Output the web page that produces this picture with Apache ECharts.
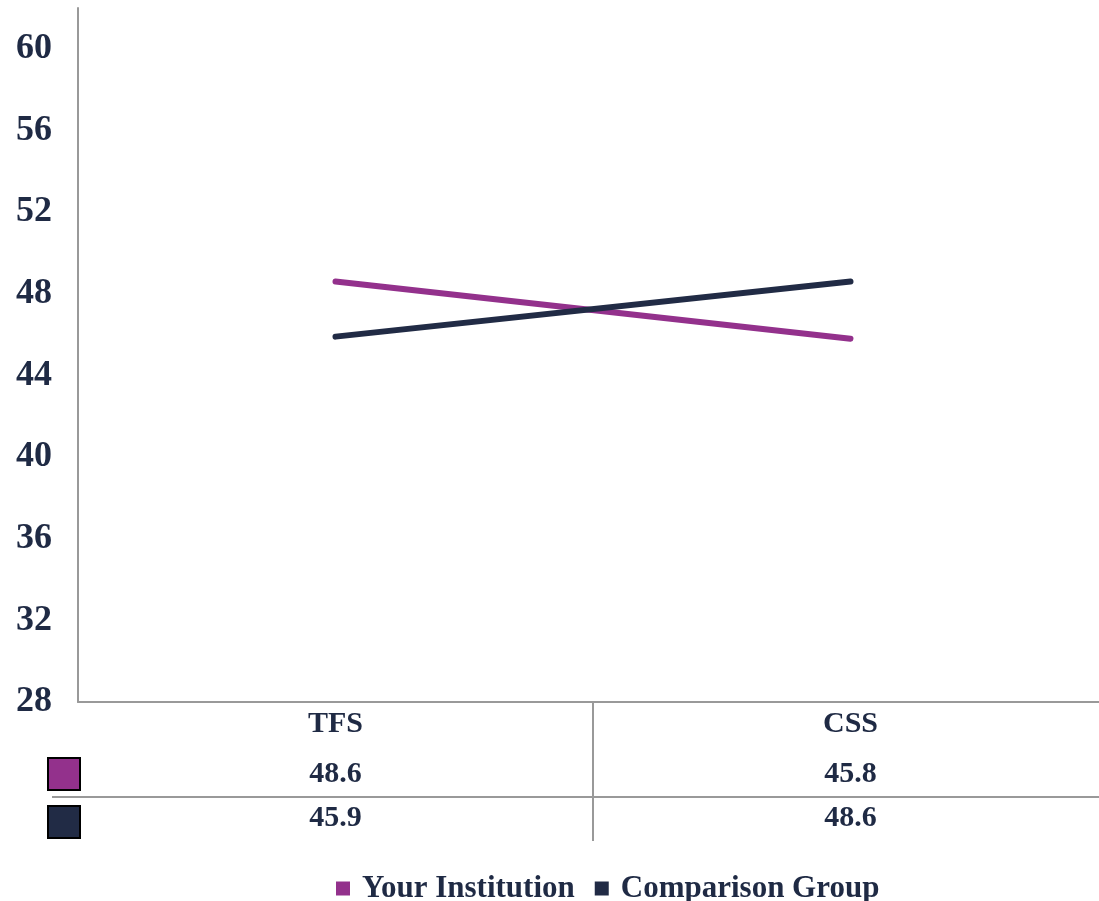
<!DOCTYPE html>
<html>
<head>
<meta charset="utf-8">
<script src="https://cdn.jsdelivr.net/npm/echarts@6/dist/echarts.min.js"></script>
<style>html,body{margin:0;padding:0;background:#fff}#c{width:1099px;height:901px}</style>
</head>
<body>
<div id="c"></div>
<script>
const categories = ['TFS', 'CSS'];
const seriesNames = ['Your Institution', 'Comparison Group'];
const yourInstitution = [48.6, 45.8];
const comparisonGroup = [45.9, 48.6];
const colors = ['#93318C', '#212B45'];
const textColor = '#1F2A44';
const font = '"Liberation Serif", "DejaVu Serif", serif';

const chart = echarts.init(document.getElementById('c'));
chart.setOption({
  animation: false,
  backgroundColor: '#fff',
  grid: { left: 78, top: 8, bottom: 199, width: 1030, outerBoundsMode: 'none', containLabel: false },
  legend: {
    left: 331, top: 868,
    icon: 'rect', itemWidth: 14, itemHeight: 14, itemGap: 20,
    data: seriesNames,
    textStyle: { fontFamily: font, fontWeight: 'bold', fontSize: 31, color: textColor, padding: [0, 0, 0, 7] }
  },
  xAxis: {
    type: 'category',
    data: categories,
    boundaryGap: true,
    axisLine: { lineStyle: { color: '#999', width: 2 } },
    axisTick: { show: false },
    axisLabel: {
      margin: 2,
      interval: 0,
      formatter: function (v, i) {
        return '{c|' + v + '}\n{a|' + yourInstitution[i].toFixed(1) + '}\n{b|' + comparisonGroup[i].toFixed(1) + '}';
      },
      rich: {
        c: { fontFamily: font, fontWeight: 'bold', fontSize: 30, color: textColor, lineHeight: 40 },
        a: { fontFamily: font, fontWeight: 'bold', fontSize: 30, color: textColor, lineHeight: 60 },
        b: { fontFamily: font, fontWeight: 'bold', fontSize: 30, color: textColor, lineHeight: 28 }
      }
    }
  },
  yAxis: {
    type: 'value',
    min: 28, max: 62, interval: 4,
    axisLine: { show: true, lineStyle: { color: '#999', width: 2 } },
    axisTick: { show: false },
    splitLine: { show: false },
    axisLabel: {
      showMaxLabel: false,
      margin: 26,
      fontFamily: font, fontWeight: 'bold', fontSize: 36, color: textColor
    }
  },
  series: [
    {
      name: seriesNames[0], type: 'line', data: yourInstitution,
      symbol: 'none', color: colors[0],
      lineStyle: { width: 6, color: colors[0], cap: 'round' }
    },
    {
      name: seriesNames[1], type: 'line', data: comparisonGroup,
      symbol: 'none', color: colors[1],
      lineStyle: { width: 6, color: colors[1], cap: 'round' }
    }
  ],
  graphic: [
    { type: 'line', shape: { x1: 52, y1: 797, x2: 1099, y2: 797 }, style: { stroke: '#999', lineWidth: 2 } },
    { type: 'line', shape: { x1: 593, y1: 702, x2: 593, y2: 841 }, style: { stroke: '#999', lineWidth: 2 } },
    { type: 'rect', shape: { x: 48, y: 758, width: 32, height: 32 }, style: { fill: colors[0], stroke: '#000', lineWidth: 2 } },
    { type: 'rect', shape: { x: 48, y: 806, width: 32, height: 32 }, style: { fill: colors[1], stroke: '#000', lineWidth: 2 } }
  ]
});
</script>
</body>
</html>
